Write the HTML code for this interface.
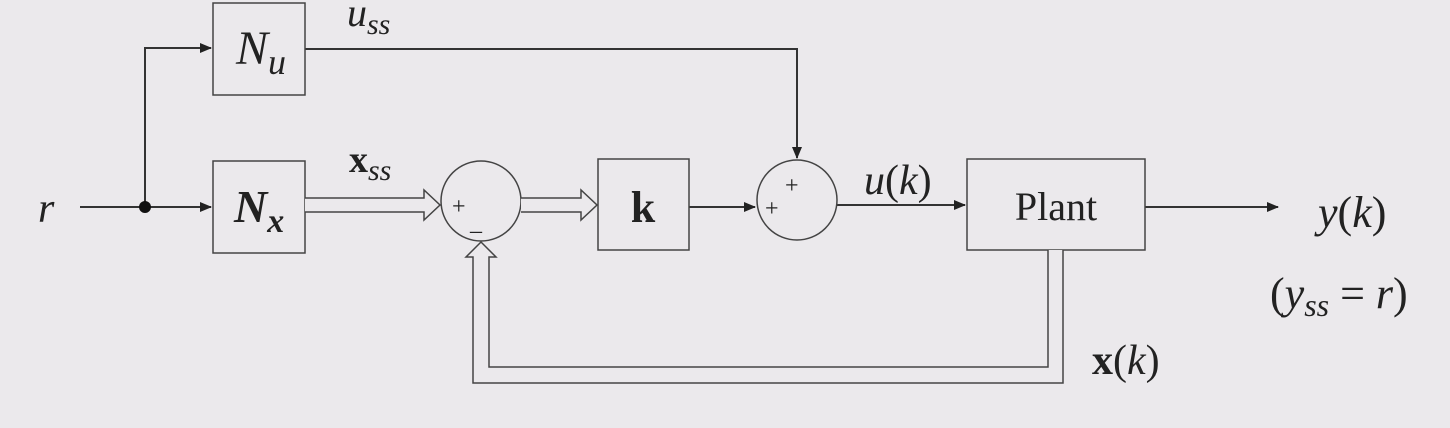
<!DOCTYPE html>
<html><head><meta charset="utf-8"><style>
html,body{margin:0;padding:0;background:#ebe9ec;}
svg{display:block;}
text{fill:#222;}
.it{font-family:"Liberation Serif",serif;font-style:italic;}
.rm{font-family:"Liberation Serif",serif;}
.up{font-style:normal;}
</style></head><body>
<svg width="1450" height="428" viewBox="0 0 1450 428">
<defs><marker id="ah" markerWidth="12" markerHeight="10" refX="11" refY="5" orient="auto" markerUnits="userSpaceOnUse"><path d="M0,0 L12,5 L0,10 Z" fill="#222"/></marker></defs>
<g stroke="#333" stroke-width="2" fill="none">
<line x1="80" y1="207" x2="211" y2="207" marker-end="url(#ah)"/>
<polyline points="145,207 145,48 211,48" marker-end="url(#ah)"/>
<polyline points="305,49 797,49 797,158" marker-end="url(#ah)"/>
<line x1="689" y1="207" x2="755" y2="207" marker-end="url(#ah)"/>
<line x1="837" y1="205" x2="965" y2="205" marker-end="url(#ah)"/>
<line x1="1145" y1="207" x2="1278" y2="207" marker-end="url(#ah)"/>
</g>
<circle cx="145" cy="207" r="6" fill="#111"/>
<g stroke="#444" stroke-width="1.5" fill="#ebe9ec">
<rect x="213" y="3" width="92" height="92"/>
<rect x="213" y="161" width="92" height="92"/>
<rect x="598" y="159" width="91" height="91"/>
<rect x="967" y="159" width="178" height="91"/>
<ellipse cx="481" cy="201" rx="40" ry="40"/>
<ellipse cx="797" cy="200" rx="40" ry="40"/>
<polyline points="305,198 424,198 424,190 440,205 424,220 424,212 305,212"/>
<polyline points="521,198 581,198 581,190 597,205 581,220 581,212 521,212"/>
<polyline points="1063,250 1063,383 473,383 473,257 466,257 481,242 496,257 489,257 489,367 1048,367 1048,250"/>
</g>
<text x="38" y="222" class="it" font-size="42">r</text>
<text x="236" y="64" class="it" font-size="48">N<tspan font-size="36" dy="10">u</tspan></text>
<text x="234" y="222" class="it" font-size="46" font-weight="bold">N<tspan font-size="34" dy="10">x</tspan></text>
<text x="347" y="26" class="it" font-size="40">u<tspan font-size="30" dy="8">ss</tspan></text>
<text x="349" y="172" class="rm" font-size="38" font-weight="bold">x<tspan class="it" font-weight="normal" font-size="30" dy="8">ss</tspan></text>
<text x="452" y="214" class="rm" font-size="24">+</text>
<text x="470" y="230" class="rm" font-size="24">_</text>
<text x="643" y="222" text-anchor="middle" class="rm" font-size="44" font-weight="bold">k</text>
<text x="765" y="216" class="rm" font-size="24">+</text>
<text x="785" y="193" class="rm" font-size="24">+</text>
<text x="864" y="194" class="it" font-size="42">u<tspan class="up">(</tspan>k<tspan class="up">)</tspan></text>
<text x="1056" y="220" text-anchor="middle" class="rm" font-size="40">Plant</text>
<text x="1318" y="227" class="it" font-size="44">y<tspan class="up">(</tspan>k<tspan class="up">)</tspan></text>
<text x="1270" y="308" class="it" font-size="44"><tspan class="up">(</tspan>y<tspan font-size="32" dy="8">ss</tspan><tspan dy="-8" class="up"> = </tspan>r<tspan class="up">)</tspan></text>
<text x="1092" y="374" class="it" font-size="42"><tspan font-weight="bold" class="up">x</tspan><tspan class="up">(</tspan>k<tspan class="up">)</tspan></text>
</svg>
</body></html>
